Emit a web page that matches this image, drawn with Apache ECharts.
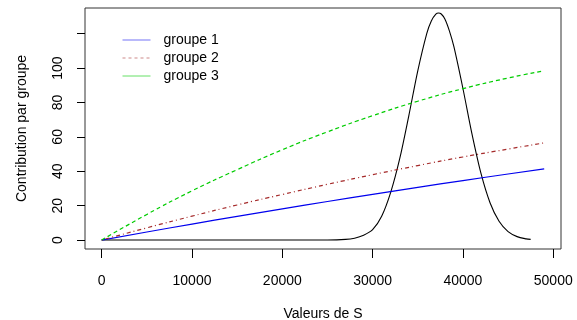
<!DOCTYPE html>
<html>
<head>
<meta charset="utf-8">
<script src="https://cdn.jsdelivr.net/npm/echarts@6/dist/echarts.min.js"></script>
<style>
  html, body { margin: 0; padding: 0; background: #fff; }
  #chart { width: 577px; height: 320px; }
</style>
</head>
<body>
<div id="chart"></div>
<script>
// Values of S at which each group's contribution is given
const sValues = [0, 5000, 10000, 15000, 20000, 25000, 30000, 35000, 40000, 45000, 49000];
const groupe1 = [0, 4.7, 9.3, 13.8, 18.1, 22.4, 26.6, 30.6, 34.6, 38.4, 41.4];
const groupe2 = [0, 7.1, 13.9, 20.4, 26.5, 32.4, 38.0, 43.3, 48.3, 52.9, 56.5];
const groupe3 = [0, 14.9, 28.6, 40.9, 52.5, 62.9, 72.3, 80.7, 88.0, 94.2, 98.4];

// Distribution of S (scaled density curve)
const densityS = [0, 25000, 27000, 28000, 29000, 30000, 31000, 32000, 33000, 34000, 35000,
  36000, 36500, 37000, 37300, 37600, 38000, 38500, 39000, 40000, 41000, 42000, 43000, 44000,
  45000, 46000, 47000, 47500];
const densityY = [0, 0.03, 0.37, 1.1, 2.8, 6.0, 13.8, 27.7, 47.3, 72.1, 98.4,
  120.2, 127.4, 131.3, 132, 131.4, 128.5, 121.6, 112.4, 88.1, 61.7, 38.7, 21.7, 10.9,
  4.9, 2.0, 0.7, 0.4];

// Axis ticks
const xTicks = [0, 10000, 20000, 30000, 40000, 50000];
const yTicks = [0, 20, 40, 60, 80, 100, 120];
const yLabels = [0, 20, 40, 60, 80, 100];

const FONT = 'Liberation Sans, Arial, Helvetica, sans-serif';

const pairs = (xs, ys) => xs.map((x, i) => [x, ys[i]]);
const plain = v => String(v);

const chart = echarts.init(document.getElementById('chart'), null, { renderer: 'canvas' });
chart.setOption({
  animation: false,
  backgroundColor: '#ffffff',
  textStyle: { fontFamily: FONT },
  grid: {
    left: 85, right: 16, top: 8, bottom: 71,
    containLabel: false, outerBoundsMode: 'none',
    show: true, borderColor: '#333', borderWidth: 1, backgroundColor: 'transparent'
  },
  legend: {
    left: 117, top: 28, orient: 'vertical',
    itemWidth: 28, itemHeight: 14, itemGap: 4,
    itemStyle: { opacity: 0 },
    textStyle: { fontSize: 14, color: '#000', fontFamily: FONT, padding: [0, 0, 0, 8], lineHeight: 14 },
    data: [
      { name: 'groupe 1', itemStyle: { opacity: 0 }, lineStyle: { color: '#0000ee', width: 1, type: 'solid', opacity: 0.55 } },
      { name: 'groupe 2', itemStyle: { opacity: 0 }, lineStyle: { color: '#a52a2a', width: 1, type: [3, 3], opacity: 0.55 } },
      { name: 'groupe 3', itemStyle: { opacity: 0 }, lineStyle: { color: '#00cc00', width: 1, type: 'solid', opacity: 0.6 } }
    ]
  },
  xAxis: {
    type: 'value', min: -1850, max: 50860,
    name: 'Valeurs de S', nameLocation: 'middle', nameGap: 58,
    nameTextStyle: { fontSize: 14, color: '#000', fontFamily: FONT },
    axisLine: { show: false, onZero: false },
    axisTick: { show: true, inside: false, length: 9, lineStyle: { color: '#000' }, customValues: xTicks },
    axisLabel: { show: true, margin: 25, fontSize: 14, color: '#000', fontFamily: FONT, customValues: xTicks, formatter: plain },
    splitLine: { show: false }
  },
  yAxis: {
    type: 'value', min: -5.2, max: 134.9,
    name: 'Contribution par groupe', nameLocation: 'middle', nameGap: 56,
    nameTextStyle: { fontSize: 14, color: '#000', fontFamily: FONT },
    axisLine: { show: false, onZero: false },
    axisTick: { show: true, inside: false, length: 8, lineStyle: { color: '#000' }, customValues: yTicks },
    axisLabel: { show: true, rotate: 90, margin: 20, fontSize: 14, color: '#000', fontFamily: FONT, customValues: yLabels, formatter: plain },
    splitLine: { show: false }
  },
  series: [
    {
      name: 'densité', type: 'line', data: pairs(densityS, densityY),
      smooth: 0.3, symbol: 'none', color: '#000',
      lineStyle: { color: '#000', width: 1.1 }, z: 3
    },
    {
      name: 'groupe 1', type: 'line', data: pairs(sValues, groupe1),
      smooth: true, symbol: 'none', color: '#0000ee',
      lineStyle: { color: '#0000ee', width: 1.2, type: 'solid' }
    },
    {
      name: 'groupe 2', type: 'line', data: pairs(sValues, groupe2),
      smooth: true, symbol: 'none', color: '#a52a2a',
      lineStyle: { color: '#a52a2a', width: 1.2, type: [1, 3, 4, 3] }
    },
    {
      name: 'groupe 3', type: 'line', data: pairs(sValues, groupe3),
      smooth: true, symbol: 'none', color: '#00cc00',
      lineStyle: { color: '#00cc00', width: 1.2, type: [4, 3] }
    }
  ]
});
</script>
</body>
</html>
